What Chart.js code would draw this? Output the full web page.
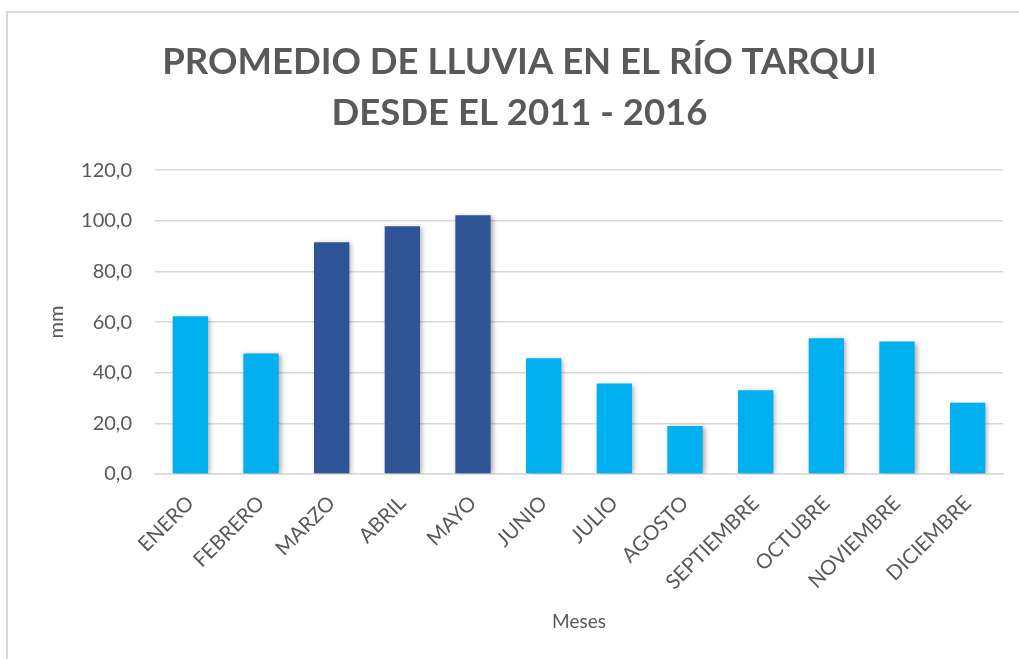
<!DOCTYPE html>
<html>
<head>
<meta charset="utf-8">
<script src="https://cdn.jsdelivr.net/npm/chart.js@4.4.0/dist/chart.umd.min.js"></script>
<style>
  html, body { margin: 0; padding: 0; background: #ffffff; }
  #wrap { position: relative; width: 1019px; height: 659px; overflow: hidden; }
  #frame { position: absolute; left: 6px; top: 11px; width: 1100px; height: 700px;
           border-top: 2px solid #d9d9d9; border-left: 2px solid #d9d9d9; box-sizing: border-box; }
  canvas { position: absolute; left: 0; top: 0; }
</style>
</head>
<body>
<div id="wrap">
  <div id="frame"></div>
  <canvas id="c" width="1019" height="659"></canvas>
</div>
<script>
const categories = ["ENERO","FEBRERO","MARZO","ABRIL","MAYO","JUNIO","JULIO","AGOSTO","SEPTIEMBRE","OCTUBRE","NOVIEMBRE","DICIEMBRE"];
const rainfall = [62.3, 47.6, 91.5, 97.9, 102.2, 45.7, 35.7, 19.0, 33.1, 53.6, 52.3, 28.1];
const highlighted = ["MARZO","ABRIL","MAYO"];
const yTicks = [0, 20, 40, 60, 80, 100, 120];
const titleLines = ["PROMEDIO DE LLUVIA EN EL RÍO TARQUI", "DESDE EL 2011 - 2016"];
const xTitle = "Meses";
const yTitle = "mm";

const LIGHT = "#00B0F0";
const DARK = "#2F5597";
const TEXT = "#595959";
const FONT = "Lato, 'Open Sans', sans-serif";

const shadowPlugin = {
  id: "barShadow",
  beforeDatasetsDraw(chart) {
    const ctx = chart.ctx;
    ctx.save();
    ctx.shadowColor = "rgba(0,0,0,0.35)";
    ctx.shadowBlur = 5;
    ctx.shadowOffsetX = 2;
    ctx.shadowOffsetY = 1;
  },
  afterDatasetsDraw(chart) {
    chart.ctx.restore();
  }
};

new Chart(document.getElementById("c"), {
  type: "bar",
  data: {
    labels: categories,
    datasets: [{
      data: rainfall,
      backgroundColor: (ctx) => highlighted.includes(categories[ctx.dataIndex]) ? DARK : LIGHT,
      borderWidth: 0,
      categoryPercentage: 1.0,
      barPercentage: 0.5
    }]
  },
  plugins: [shadowPlugin],
  options: {
    responsive: false,
    animation: false,
    devicePixelRatio: 1,
    layout: { padding: { left: 36, right: 16, top: 0, bottom: 20 } },
    plugins: {
      legend: { display: false },
      tooltip: { enabled: false },
      title: {
        display: true,
        text: titleLines,
        color: TEXT,
        font: { family: FONT, size: 36.5, weight: "bold", lineHeight: 1.4 },
        padding: { top: 37, bottom: 31 }
      }
    },
    scales: {
      x: {
        grid: { display: false, drawTicks: false },
        border: { display: true, color: "#d9d9d9", width: 1.5 },
        ticks: {
          color: TEXT,
          font: { family: FONT, size: 20.5 },
          minRotation: 45,
          maxRotation: 45,
          padding: 17,
          autoSkip: false
        },
        title: {
          display: true,
          text: xTitle,
          color: TEXT,
          font: { family: FONT, size: 19 },
          padding: { top: 4, bottom: 6 }
        },
        afterFit(scale) { scale.height = 165; }
      },
      y: {
        min: 0,
        max: 120,
        afterBuildTicks(scale) { scale.ticks = yTicks.map(v => ({ value: v })); },
        grid: { color: "#d9d9d9", lineWidth: 1.5, drawTicks: false },
        border: { display: false },
        ticks: {
          color: TEXT,
          font: { family: FONT, size: 20 },
          padding: 23,
          callback: (v) => v.toFixed(1).replace(".", ",")
        },
        title: {
          display: true,
          text: yTitle,
          color: TEXT,
          font: { family: FONT, size: 20 },
          padding: { top: 9, bottom: 0 }
        },
        afterFit(scale) { scale.width = 119; }
      }
    }
  }
});
</script>
</body>
</html>
